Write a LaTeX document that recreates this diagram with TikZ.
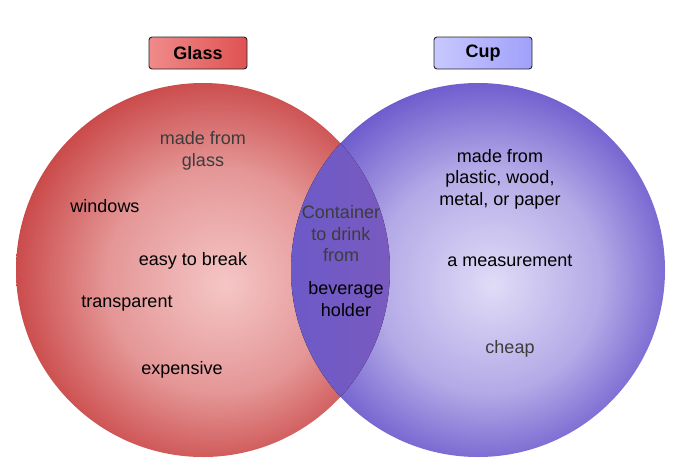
\documentclass[tikz,border=0pt]{standalone}
\usepackage{fontspec}
\setmainfont{Liberation Sans}
\usepackage{xcolor}
\usetikzlibrary{positioning}

\definecolor{glassin}{HTML}{F5C6C6}
\definecolor{glassout}{HTML}{CA4848}
\definecolor{cupin}{HTML}{E0DCF7}
\definecolor{cupout}{HTML}{6A58CC}
\definecolor{lensleft}{HTML}{6C5AC8}
\definecolor{lensright}{HTML}{9E5AA6}
\definecolor{dimtext}{HTML}{3C3C3C}
\definecolor{glasstagl}{HTML}{F08A8A}
\definecolor{glasstagr}{HTML}{E05252}
\definecolor{cuptagl}{HTML}{C8C8FF}
\definecolor{cuptagr}{HTML}{A0A0FA}
\pgfdeclareradialshading{glassshade}{\pgfpoint{3bp}{-2bp}}{color(0bp)=(glassin); color(15bp)=(glassin!62!glassout); color(27bp)=(glassout); color(50bp)=(glassout)}
\pgfdeclareradialshading{cupshade}{\pgfpoint{2bp}{-2bp}}{color(0bp)=(cupin); color(15bp)=(cupin!62!cupout); color(27bp)=(cupout); color(50bp)=(cupout)}

\tikzset{
  venn/.style={circle, minimum size=374pt, inner sep=0pt},
  setlabel/.style={draw=black!85, line width=0.9pt, rounded corners=3pt, minimum width=98pt, minimum height=32pt, font=\fontsize{18}{21.5}\selectfont\bfseries},
  item/.style={align=center},
  dimitem/.style={align=center, text=dimtext}
}

\begin{document}
\begin{tikzpicture}[x=1pt, y=-1pt, every node/.style={font=\fontsize{18}{21.5}\selectfont}]
  \useasboundingbox (0,0) rectangle (680,469);
  % the two sets
  \node[venn, shading=glassshade] (glass) at (203,270) {};
  \node[venn, shading=cupshade] (cup) at (478,270) {};
  % overlap
  \begin{scope}
    \clip (203,270) circle[radius=187pt];
    \fill[left color=lensleft, right color=lensright] (478,270) circle[radius=187pt];
  \end{scope}
  % set titles
  \node[setlabel, left color=glasstagl, right color=glasstagr] (glasstitle) at (198,53) {Glass};
  \node[setlabel, left color=cuptagl, right color=cuptagr] (cuptitle) at (483,53) {Cup};
  % glass only
  \node[dimitem] (madeglass) at (203,151) {made from\\glass};
  \node[item] (windows) at (105,206) {windows};
  \node[item] (easybreak) at (193,261) {easy to break};
  \node[item] (transparent) at (127,304) {transparent};
  \node[item] (expensive) at (182,370) {expensive};
  % both
  \node[dimitem] (container) at (341,234) {Container\\to drink\\from};
  \node[item] (holder) at (346,299) {beverage\\holder};
  % cup only
  \node[item] (madecup) at (500,179) {made from\\plastic, wood,\\metal, or paper};
  \node[item] (measure) at (510,261) {a measurement};
  \node[dimitem] (cheap) at (510,349) {cheap};
\end{tikzpicture}
\end{document}
